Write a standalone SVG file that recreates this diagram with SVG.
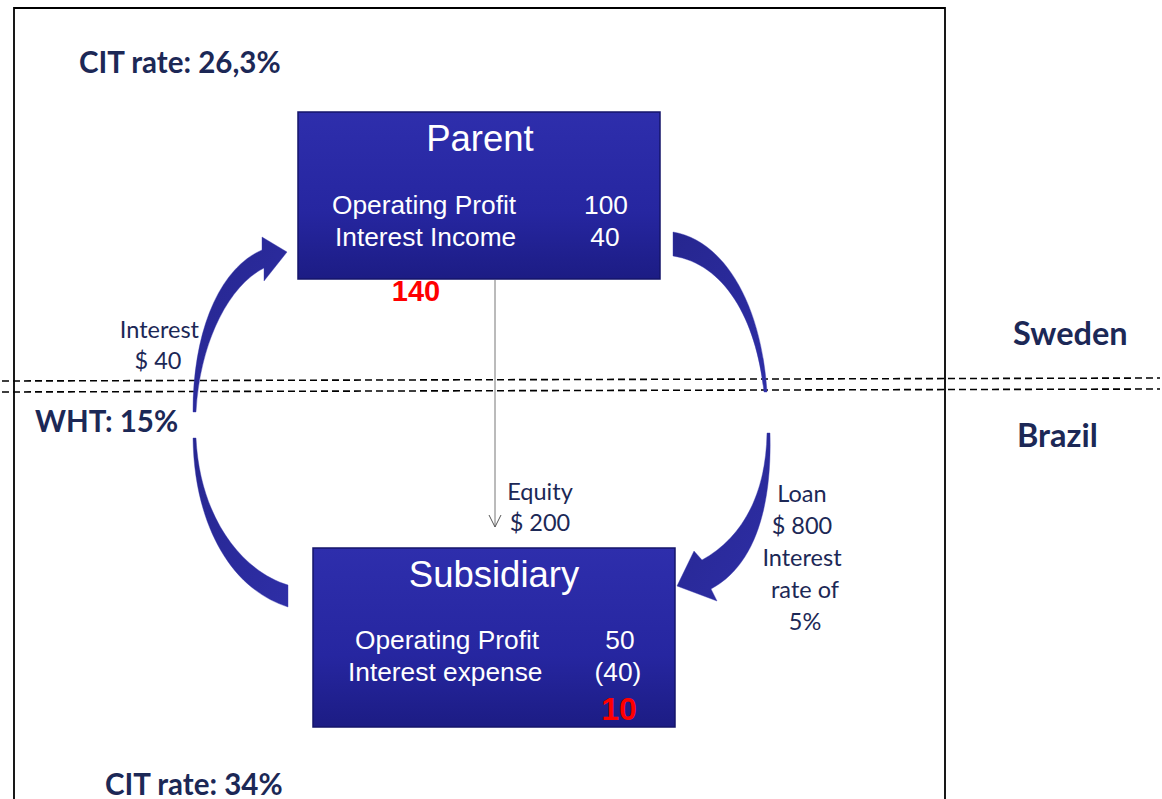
<svg xmlns="http://www.w3.org/2000/svg" width="1162" height="799" viewBox="0 0 1162 799">
  <style>
    .lbl { font-family: Lato, "Open Sans", sans-serif; fill: #1c2856; }
    .big { font-size: 29.5px; font-weight: bold; }
    .sm { font-size: 23.5px; }
    .box-title { font-family: "Liberation Sans", Arial, sans-serif; font-size: 36.5px; fill: #ffffff; }
    .box-text { font-family: "Liberation Sans", Arial, sans-serif; font-size: 26.3px; fill: #ffffff; }
    .red { font-family: "Liberation Sans", Arial, sans-serif; font-weight: bold; fill: #ff0000; }
    .dash { stroke: #000; stroke-width: 1.6; stroke-dasharray: 7 4; fill: none; }
    .flow { fill: url(#arrowFill); stroke: #3a3ab0; stroke-width: 0.8; stroke-opacity: 0.5; }
  </style>
  <defs>
    <linearGradient id="boxFill" x1="0" y1="0" x2="0" y2="1">
      <stop offset="0" stop-color="#2e2eac"/>
      <stop offset="0.6" stop-color="#2626a0"/>
      <stop offset="1" stop-color="#1c1c84"/>
    </linearGradient>
    <linearGradient id="arrowFill" x1="0" y1="0" x2="1" y2="1">
      <stop offset="0" stop-color="#26268f"/>
      <stop offset="1" stop-color="#2e2ea6"/>
    </linearGradient>
    <marker id="openHead" markerWidth="14" markerHeight="14" refX="13" refY="7" orient="auto" markerUnits="userSpaceOnUse" viewBox="0 0 14 14">
      <path d="M1,1 L13,7 L1,13" fill="none" stroke="#555" stroke-width="1"/>
    </marker>
  </defs>

  <rect width="1162" height="799" fill="#ffffff"/>

  <!-- outer frame -->
  <path d="M14,799 L14,8 L945,8 L945,799" fill="none" stroke="#000" stroke-width="1.8"/>

  <!-- country border -->
  <line class="dash" x1="2" y1="381" x2="1160" y2="378"/>
  <line class="dash" x1="2" y1="392" x2="1160" y2="389"/>

  <g id="connectors">
    <!-- equity -->
    <line x1="495" y1="280" x2="495" y2="527" stroke="#777" stroke-width="1" marker-end="url(#openHead)"/>
    <!-- interest paid upward (left) -->
    <path class="flow" d="M193,412 C193,330 220,268 262,250 L262,237 L287,252 L264,281 L264,268 C230,285 200,340 196,412 Z"/>
    <path class="flow" d="M193,438 C194,520 228,588 288,607 L288,585 C244,572 200,520 196,438 Z"/>
    <!-- loan downward (right) -->
    <path class="flow" d="M673,232 C722,240 761,300 767,392 L764,392 C756,318 724,264 673,256 Z"/>
    <path class="flow" d="M767,433 C766,495 742,538 702,560 L694,551 L677,586 L717,601 L711,589 C756,565 772,505 770,433 Z"/>
  </g>

  <g id="parent">
    <rect x="298" y="112" width="362" height="167" fill="url(#boxFill)" stroke="#14146a" stroke-width="1.5"/>
    <text class="box-title" x="480" y="151" text-anchor="middle">Parent</text>
    <text class="box-text" x="332" y="214">Operating Profit</text>
    <text class="box-text" x="606" y="214" text-anchor="middle">100</text>
    <text class="box-text" x="335" y="246">Interest Income</text>
    <text class="box-text" x="605" y="246" text-anchor="middle">40</text>
  </g>
  <text class="red" x="416" y="301" font-size="29" text-anchor="middle">140</text>

  <g id="subsidiary">
    <rect x="313" y="548" width="362" height="179" fill="url(#boxFill)" stroke="#14146a" stroke-width="1.5"/>
    <text class="box-title" x="494" y="587" text-anchor="middle">Subsidiary</text>
    <text class="box-text" x="355" y="649">Operating Profit</text>
    <text class="box-text" x="620" y="649" text-anchor="middle">50</text>
    <text class="box-text" x="348" y="681">Interest expense</text>
    <text class="box-text" x="618" y="681" text-anchor="middle">(40)</text>
    <text class="red" x="619" y="720" font-size="32" text-anchor="middle">10</text>
  </g>

  <!-- labels -->
  <text class="lbl big" x="79" y="73">CIT rate: 26,3%</text>
  <text class="lbl big" x="105" y="795">CIT rate: 34%</text>
  <text class="lbl big" x="35" y="432">WHT: 15%</text>
  <text class="lbl" x="1013" y="345" font-size="32.5" font-weight="bold">Sweden</text>
  <text class="lbl" x="1017" y="447" font-size="32.5" font-weight="bold">Brazil</text>

  <text class="lbl sm" x="199" y="338" text-anchor="end">Interest</text>
  <text class="lbl sm" x="158" y="369" text-anchor="middle">$ 40</text>

  <text class="lbl sm" x="540" y="500" text-anchor="middle">Equity</text>
  <text class="lbl sm" x="540" y="531" text-anchor="middle">$ 200</text>

  <text class="lbl sm" x="802" y="502" text-anchor="middle">Loan</text>
  <text class="lbl sm" x="802" y="534" text-anchor="middle">$ 800</text>
  <text class="lbl sm" x="802" y="566" text-anchor="middle">Interest</text>
  <text class="lbl sm" x="805" y="598" text-anchor="middle">rate of</text>
  <text class="lbl sm" x="805" y="630" text-anchor="middle">5%</text>
</svg>
